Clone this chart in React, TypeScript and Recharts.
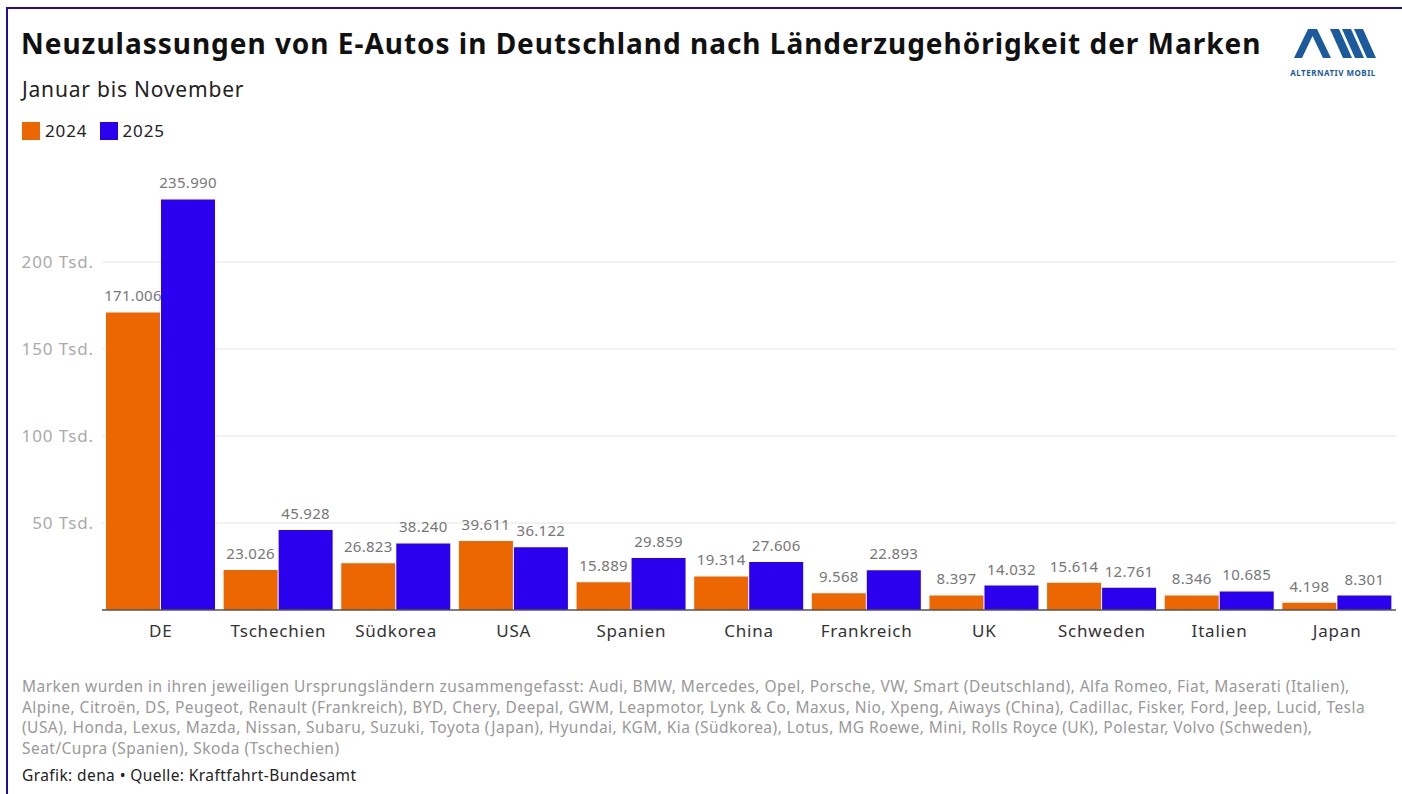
import { BarChart, Bar, XAxis, YAxis, CartesianGrid, LabelList } from 'recharts';

const countries = ['DE', 'Tschechien', 'Südkorea', 'USA', 'Spanien', 'China', 'Frankreich', 'UK', 'Schweden', 'Italien', 'Japan'];
const values2024 = [171006, 23026, 26823, 39611, 15889, 19314, 9568, 8397, 15614, 8346, 4198];
const values2025 = [235990, 45928, 38240, 36122, 29859, 27606, 22893, 14032, 12761, 10685, 8301];
const yTicks = [50000, 100000, 150000, 200000];

const footnote = [
    'Marken wurden in ihren jeweiligen Ursprungsländern zusammengefasst: Audi, BMW, Mercedes, Opel, Porsche, VW, Smart (Deutschland), Alfa Romeo, Fiat, Maserati (Italien),',
    'Alpine, Citroën, DS, Peugeot, Renault (Frankreich), BYD, Chery, Deepal, GWM, Leapmotor, Lynk & Co, Maxus, Nio, Xpeng, Aiways (China), Cadillac, Fisker, Ford, Jeep, Lucid, Tesla',
    '(USA), Honda, Lexus, Mazda, Nissan, Subaru, Suzuki, Toyota (Japan), Hyundai, KGM, Kia (Südkorea), Lotus, MG Roewe, Mini, Rolls Royce (UK), Polestar, Volvo (Schweden),',
    'Seat/Cupra (Spanien), Skoda (Tschechien)',
];

const data = countries.map((c, i) => ({ country: c, y2024: values2024[i], y2025: values2025[i] }));

const ORANGE = '#ec6602';
const BLUE = '#2b00ee';
const FONT = '"Noto Sans", sans-serif';

// 171006 -> "171.006"
const fmt = (v: number) => String(v).replace(/\B(?=(\d{3})+(?!\d))/g, '.');

function Logo() {
    const c = '#1b5a9c';
    return (
        <svg width={92} height={52} style={{ position: 'absolute', left: 1286, top: 27 }}>
            {/* A */}
            <polygon points="8,31 22,2 31,2 45,31 37,31 26.5,9 16,31" fill={c} />
            {/* slanted bars */}
            <polygon points="44,2 53,2 66,31 57,31" fill={c} />
            <polygon points="56,2 65,2 78,31 69,31" fill={c} />
            <polygon points="68,2 77,2 90,31 81,31" fill={c} />
            <text x={47} y={49} textAnchor="middle" fontSize={8} fontWeight={700} fill={c} fontFamily={FONT} letterSpacing={0.5}>
                ALTERNATIV MOBIL
            </text>
        </svg>
    );
}

export default function App() {
    return (
        <div style={{ position: 'absolute', left: 0, top: 0, width: 1402, height: 794, background: '#fff', overflow: 'hidden', fontFamily: FONT }}>
            <div style={{ position: 'absolute', left: 6, top: 7, width: 1500, height: 900, borderLeft: '2px solid #22109a', borderTop: '2px solid #22109a' }} />

            <div style={{ position: 'absolute', left: 21, top: 24, fontSize: 28, fontWeight: 700, letterSpacing: 0.98, color: '#111', whiteSpace: 'nowrap' }}>
                Neuzulassungen von E-Autos in Deutschland nach Länderzugehörigkeit der Marken
            </div>
            <div style={{ position: 'absolute', left: 22, top: 75, fontSize: 21, letterSpacing: 0.8, color: '#222', whiteSpace: 'nowrap' }}>
                Januar bis November
            </div>

            <div style={{ position: 'absolute', left: 22, top: 119, display: 'flex', alignItems: 'center', fontSize: 17, letterSpacing: 0.9, color: '#222' }}>
                <span style={{ width: 18, height: 18, background: ORANGE, display: 'inline-block', marginRight: 5 }} />
                <span style={{ marginRight: 12 }}>2024</span>
                <span style={{ width: 18, height: 18, background: BLUE, display: 'inline-block', marginRight: 5 }} />
                <span>2025</span>
            </div>

            <Logo />

            <div style={{ position: 'absolute', left: 0, top: 150 }}>
                <BarChart width={1402} height={500} data={data} margin={{ top: 25, right: 6, bottom: 10, left: 0 }} barCategoryGap={4} barGap={1}>
                    <CartesianGrid vertical={false} stroke="#e6e6e6" horizontalValues={yTicks} />
                    <XAxis
                        dataKey="country"
                        height={30}
                        tickLine={false}
                        axisLine={{ stroke: '#555', strokeWidth: 1.5 }}
                        tickMargin={9}
                        tick={{ fill: '#333', fontSize: 17, fontFamily: FONT, letterSpacing: 0.8 }}
                        interval={0}
                    />
                    <YAxis
                        width={102}
                        domain={[0, 250000]}
                        ticks={yTicks}
                        tickFormatter={(v: number) => `${v / 1000} Tsd.`}
                        axisLine={false}
                        tickLine={false}
                        tick={{ fill: '#aaa', fontSize: 17, fontFamily: FONT, letterSpacing: 0.9 }}
                    />
                    <Bar dataKey="y2024" fill={ORANGE} isAnimationActive={false}>
                        <LabelList dataKey="y2024" position="top" offset={11} formatter={(v: any) => fmt(Number(v))} style={{ fill: '#777', fontSize: 15, fontFamily: FONT, letterSpacing: 0.3 }} />
                    </Bar>
                    <Bar dataKey="y2025" fill={BLUE} isAnimationActive={false}>
                        <LabelList dataKey="y2025" position="top" offset={11} formatter={(v: any) => fmt(Number(v))} style={{ fill: '#777', fontSize: 15, fontFamily: FONT, letterSpacing: 0.3 }} />
                    </Bar>
                </BarChart>
            </div>

            <div style={{ position: 'absolute', left: 22, top: 676, fontSize: 15.5, letterSpacing: 0.46, lineHeight: '20.5px', color: '#999', whiteSpace: 'nowrap' }}>
                {footnote.map((line, i) => (
                    <div key={i}>{line}</div>
                ))}
            </div>
            <div style={{ position: 'absolute', left: 22, top: 764, fontSize: 15.5, letterSpacing: 0.4, color: '#222', whiteSpace: 'nowrap' }}>
                Grafik: dena • Quelle: Kraftfahrt-Bundesamt
            </div>
        </div>
    );
}
